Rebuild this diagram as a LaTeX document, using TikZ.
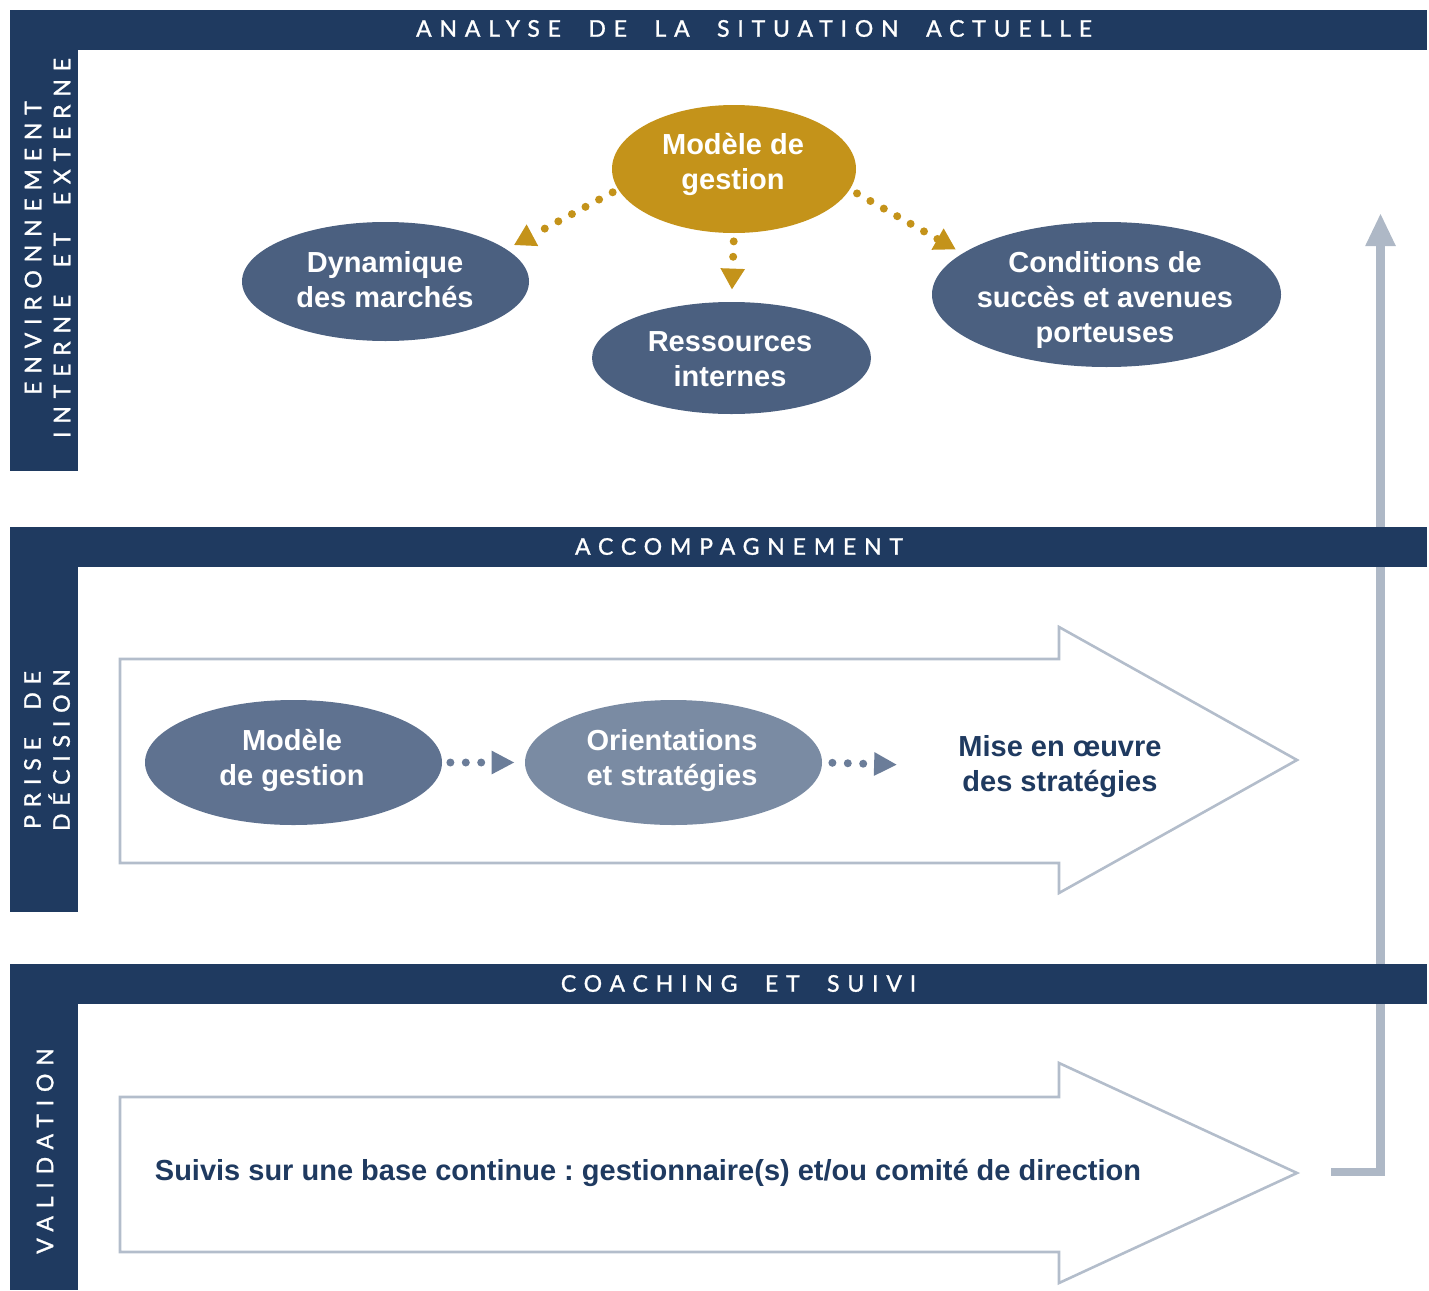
\documentclass[tikz,border=0pt]{standalone}
\usepackage{fontspec}
\setmainfont{Liberation Sans}
\newfontfamily\hdrfont[LetterSpace=34,WordSpace=2.0,FakeBold=1.2]{Lato}
\usetikzlibrary{arrows.meta,shapes.geometric}
\definecolor{navy}{HTML}{1F3A60}
\definecolor{gold}{HTML}{C4931A}
\definecolor{slate}{HTML}{4B6080}
\definecolor{slateB}{HTML}{5F7290}
\definecolor{slateC}{HTML}{7A8BA3}
\definecolor{dotgrey}{HTML}{6B7D99}
\definecolor{lgrey}{HTML}{AEB8C6}
\definecolor{agrey}{HTML}{B3BDCB}
\frenchspacing
\begin{document}
\begin{tikzpicture}[x=0.5pt,y=-0.5pt,
  bar/.style={fill=navy, draw=none},
  hdr/.style={text=white, font=\hdrfont\fontsize{11.5}{14.5}\selectfont, inner sep=0pt},
  side/.style={hdr, rotate=90, align=center},
  oval/.style={ellipse, draw=none, inner sep=0pt},
  otext/.style={text=white, font=\bfseries\fontsize{14.5}{17.5}\selectfont, align=center, inner sep=0pt},
  ntext/.style={otext, text=navy},
  bigarrow/.style={draw=agrey, line width=1.3pt, line join=miter},
  golddots/.style={gold, line width=4pt, line cap=round, dash pattern=on 0pt off 7.7pt,
     -{Triangle[length=10.5pt,width=11.5pt]}},
  greydots/.style={dotgrey, line width=4pt, line cap=round, dash pattern=on 0pt off 7.7pt,
     -{Triangle[length=11.5pt,width=11pt]}},
  greyconn/.style={lgrey, line width=4.3pt, -{Triangle[length=16.5pt,width=14pt]}}
]
\useasboundingbox (0,0) rectangle (1429,1290);

% feedback connector (behind the bars)
\coordinate (vstart) at (1331,1172);
\coordinate (vend) at (1380.5,213);
\draw[greyconn] (vstart) -| (vend);

% bands
\fill[bar] (10,10) rectangle (1427,50);
\fill[bar] (10,10) rectangle (78,471);
\fill[bar] (10,527) rectangle (1427,567);
\fill[bar] (10,527) rectangle (78,912);
\fill[bar] (10,964) rectangle (1427,1004);
\fill[bar] (10,964) rectangle (78,1290);

\node[hdr] (h1) at (754,28.5) {ANALYSE DE LA SITUATION ACTUELLE};
\node[hdr] (h2) at (739,546.5) {ACCOMPAGNEMENT};
\node[hdr] (h3) at (738.5,983.5) {COACHING ET SUIVI};
\node[side] (s1) at (47.5,248) {ENVIRONNEMENT\\INTERNE ET EXTERNE};
\node[side] (s2) at (47,750) {PRISE DE\\DÉCISION};
\node[side] (s3) at (45,1151) {VALIDATION};

% big arrows
\draw[bigarrow] (120,659) -- (1059,659) -- (1059,627) -- (1297,760) -- (1059,893) -- (1059,863) -- (120,863) -- cycle;
\draw[bigarrow] (120,1097) -- (1059,1097) -- (1059,1063) -- (1297,1173) -- (1059,1283) -- (1059,1252) -- (120,1252) -- cycle;

% top ovals
\node[oval, fill=gold, minimum width=122pt, minimum height=64pt] (mg) at (734,169) {};
\node[oval, fill=slate, minimum width=143.5pt, minimum height=59.5pt] (dyn) at (385.5,281.5) {};
\node[oval, fill=slate, minimum width=139.5pt, minimum height=56pt] (res) at (731.5,358) {};
\node[oval, fill=slate, minimum width=174.5pt, minimum height=72.5pt] (cond) at (1106.5,294.5) {};
\node[otext] (mgT) at (733,164.5) {Modèle de\\gestion};
\node[otext] (dynT) at (385,279.5) {Dynamique\\des marchés};
\node[otext] (resT) at (730,359.5) {Ressources\\internes};
\node[otext] (condT) at (1105,300) {Conditions de\\succès et avenues\\porteuses};

\draw[golddots, shorten <=3pt, shorten >=4.2pt] (mg.190) -- (dyn.15);
\draw[golddots, shorten <=4pt, shorten >=6pt] (mg.south) -- (res.north);
\draw[golddots, shorten <=4pt, shorten >=3.8pt] (mg.-10) -- (cond.164);

% middle band
\node[oval, fill=slateB, minimum width=148.5pt, minimum height=62.5pt] (m2) at (293.5,762.5) {};
\node[oval, fill=slateC, minimum width=148.5pt, minimum height=62.5pt] (or) at (673.5,762.5) {};
\node[otext] (m2T) at (292,760.5) {Modèle\\de gestion};
\node[otext] (orT) at (672,760.5) {Orientations\\et stratégies};
\node[ntext] (mise) at (1060,766.5) {Mise en œuvre\\des stratégies};
\draw[greydots, shorten <=4pt, shorten >=5pt] (m2.east) -- (or.west);
\draw[greydots, shorten <=5pt, shorten >=30.5pt] (or.east) -- (mise.west);

% bottom band
\node[ntext] (suivi) at (648,1173) {Suivis sur une base continue : gestionnaire(s) et/ou comité de direction};
\end{tikzpicture}
\end{document}
